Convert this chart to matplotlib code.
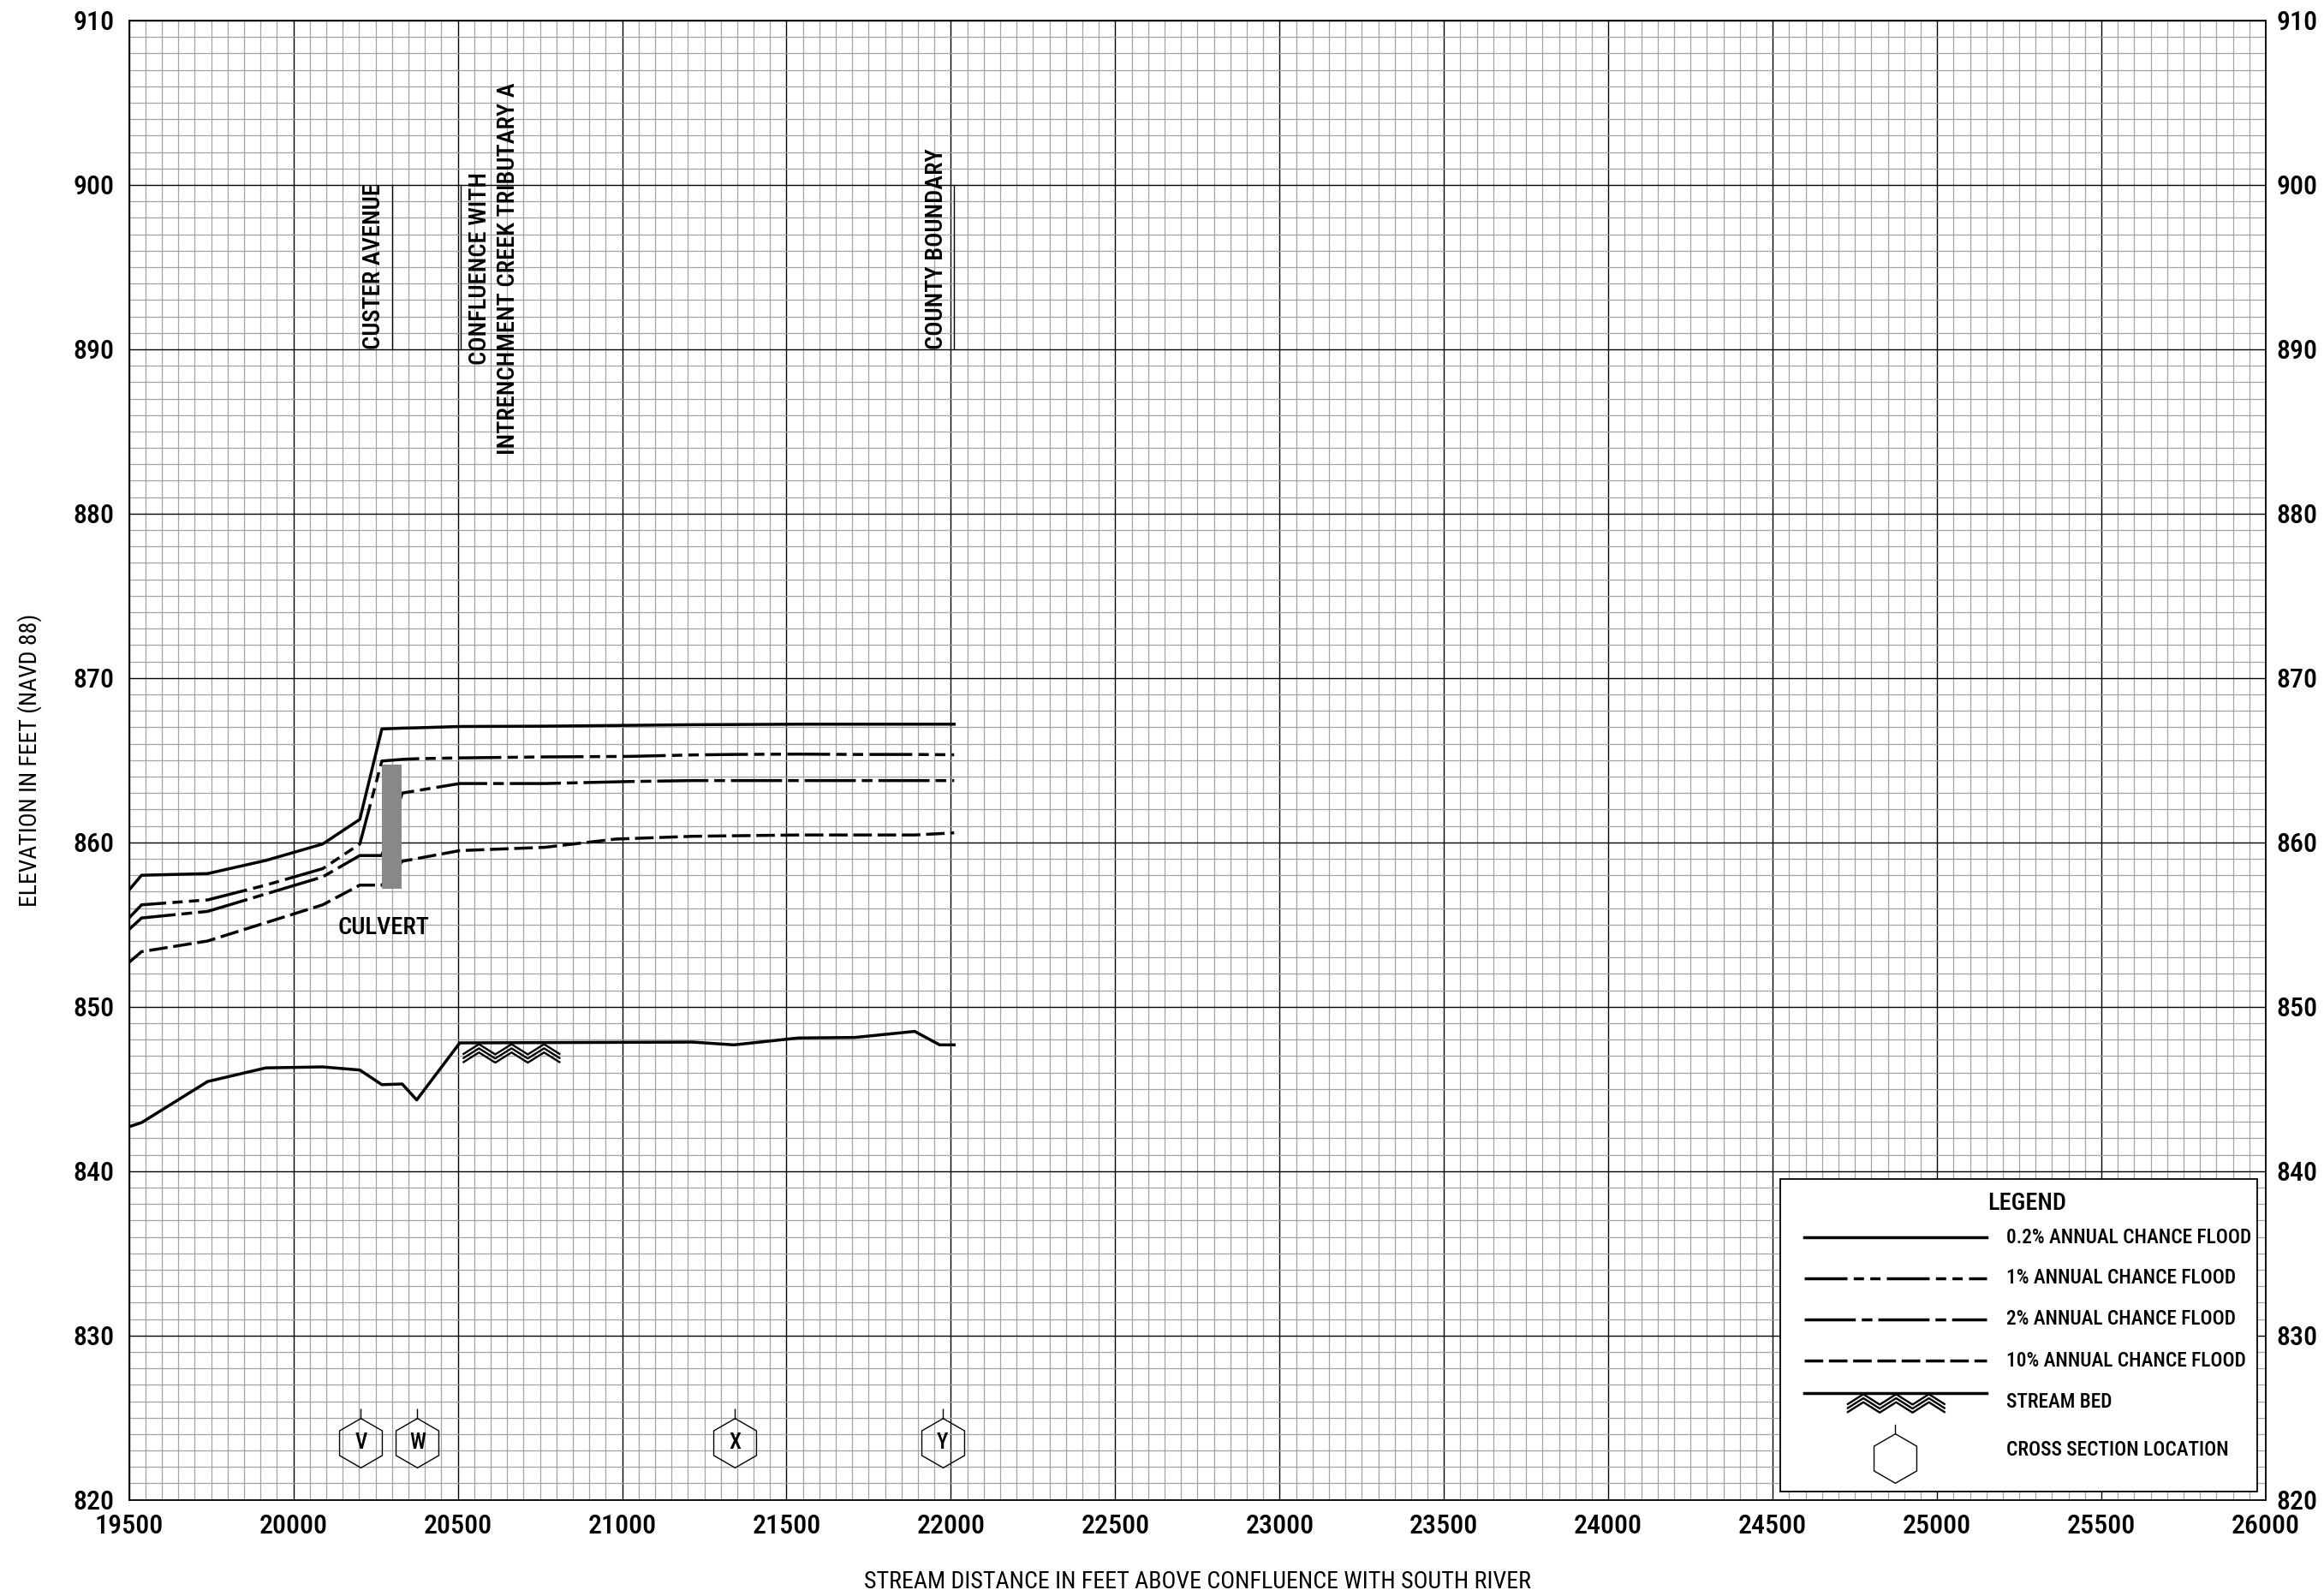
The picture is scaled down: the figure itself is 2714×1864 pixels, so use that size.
import numpy as np
import matplotlib
matplotlib.use("Agg")
import matplotlib.pyplot as plt
from matplotlib import font_manager
from matplotlib.patches import Rectangle
from matplotlib.ticker import MultipleLocator

# --- profile data (stream distance in ft, elevation in ft NAVD 88) ---
dist_02 = [19500, 19538, 19739, 19916, 20089, 20202, 20269, 20331, 20375, 20506,
           20765, 21018, 21214, 21340, 21536, 21890, 22010]
elev_02 = [857.1, 858.0, 858.1, 858.9, 859.9, 861.4, 866.9, 866.95, 866.97, 867.05,
           867.07, 867.12, 867.16, 867.17, 867.19, 867.19, 867.19]

dist_1 = [19500, 19538, 19739, 19916, 20089, 20202, 20269, 20331, 20375, 20506,
          20765, 21018, 21214, 21340, 21536, 21707, 21890, 22010]
elev_1 = [855.4, 856.2, 856.5, 857.4, 858.4, 859.9, 864.95, 865.05, 865.09, 865.14,
          865.2, 865.23, 865.32, 865.35, 865.37, 865.35, 865.35, 865.33]

dist_2 = [19500, 19538, 19739, 20089, 20202, 20269, 20331, 20506, 20765, 21018,
          21214, 22010]
elev_2 = [854.7, 855.4, 855.8, 857.9, 859.2, 859.2, 863.0, 863.58, 863.58, 863.7,
          863.76, 863.76]

dist_10 = [19500, 19538, 19739, 20089, 20202, 20269, 20331, 20506, 20765, 20980,
           21214, 21536, 21890, 22010]
elev_10 = [852.7, 853.35, 854.0, 856.2, 857.4, 857.4, 858.85, 859.5, 859.7, 860.2,
           860.37, 860.45, 860.45, 860.58]

dist_bed = [19500, 19538, 19739, 19916, 20089, 20202, 20269, 20331, 20375, 20506,
            21214, 21340, 21536, 21707, 21890, 21966, 22010]
elev_bed = [842.7, 842.95, 845.45, 846.28, 846.34, 846.15, 845.26, 845.3, 844.33, 847.8,
            847.85, 847.68, 848.1, 848.13, 848.5, 847.68, 847.68]

# cross sections
xs_labels = ["V", "W", "X", "Y"]
xs_dist = [20205, 20377, 21342, 21975]
xs_elev = 823.45

# culvert (distance range, elevation range)
culvert_dist = [20269, 20330]
culvert_elev = [857.2, 864.75]

# landmark marker lines
custer_dist = 20300
confl_dist = 20510
county_dist = 22010

x_ticks = list(range(19500, 26001, 500))
y_ticks = list(range(820, 911, 10))

# --- font: pick a narrow face if one is installed ---
pref = ["Roboto Condensed", "Liberation Sans Narrow", "Open Sans Condensed"]
narrow = [f for f in font_manager.fontManager.ttflist
          if ("Narrow" in f.name or "Condensed" in f.name or f.stretch in ("condensed", "semi-condensed"))
          and f.style == "normal" and f.weight in (400, "normal", "regular")]
narrow.sort(key=lambda f: pref.index(f.name) if f.name in pref else len(pref))
if narrow:
    plt.rcParams["font.family"] = [narrow[0].name, "DejaVu Sans"]
    plt.rcParams["font.stretch"] = narrow[0].stretch
else:
    plt.rcParams["font.family"] = ["Liberation Sans", "DejaVu Sans"]
plt.rcParams["font.weight"] = "medium"
plt.rcParams["lines.scale_dashes"] = False

dash_1 = (0, (36, 5.3, 8.6, 5.3, 8.6, 5.3))
dash_2 = (0, (43, 5, 9, 5))
dash_10 = (0, (15.6, 4.8))
LW = 2.5

fig = plt.figure(figsize=(27.14, 18.64), dpi=100)
ax = fig.add_axes([0.05553, 0.06025, 0.91942, 0.92688])
ax.set_xlim(19500, 26000)
ax.set_ylim(820, 910)
ax.set_xticks(x_ticks)
ax.set_yticks(y_ticks)
ax.xaxis.set_minor_locator(MultipleLocator(50))
ax.yaxis.set_minor_locator(MultipleLocator(1))
ax.set_axisbelow(True)
ax.grid(which="minor", color="#a3a3a3", lw=0.9)
ax.grid(which="major", color="black", lw=1.0)
ax.tick_params(which="both", length=0)
ax.tick_params(axis="x", labelsize=23, pad=12)
ax.tick_params(axis="y", labelsize=23, pad=12.5)
for s in ax.spines.values():
    s.set_linewidth(1.3)

ax2 = ax.twinx()
ax2.set_ylim(820, 910)
ax2.set_yticks(y_ticks)
ax2.tick_params(length=0, labelsize=23, pad=9)
for s in ax2.spines.values():
    s.set_visible(False)

ax.set_xlabel("STREAM DISTANCE IN FEET ABOVE CONFLUENCE WITH SOUTH RIVER", fontsize=20.2, va="center")
ax.xaxis.set_label_coords(0.5, -0.0552)
ax.set_ylabel("ELEVATION IN FEET (NAVD 88)", fontsize=20, va="center")
ax.yaxis.set_label_coords(-0.0464, 0.5)

# profiles
ax.plot(dist_02, elev_02, color="black", lw=LW, zorder=3)
ax.plot(dist_1, elev_1, color="black", lw=LW, ls=dash_1, dash_capstyle="butt", zorder=3)
ax.plot(dist_2, elev_2, color="black", lw=LW, ls=dash_2, dash_capstyle="butt", zorder=3)
ax.plot(dist_10, elev_10, color="black", lw=LW, ls=dash_10, dash_capstyle="butt", zorder=3)
ax.plot(dist_bed, elev_bed, color="black", lw=LW, zorder=3)


def bed_hatch(x0, x1, ytop, depth, off, trans, z, n=3):
    xs = np.linspace(x0, x1, 2 * n + 1)
    ys = np.where(np.arange(2 * n + 1) % 2 == 0, ytop - depth, ytop)
    for k in range(3):
        ax.plot(xs, ys - k * off, color="black", lw=1.7, transform=trans,
                solid_capstyle="butt", zorder=z, clip_on=False)


bed_hatch(20515, 20812, 847.8 - 0.08, 0.62, 0.25, ax.transData, 6)

# culvert
ax.add_patch(Rectangle((culvert_dist[0], culvert_elev[0]), culvert_dist[1] - culvert_dist[0],
                       culvert_elev[1] - culvert_elev[0], facecolor="#888888", edgecolor="none", zorder=4))
ax.text(20273, 854.8, "CULVERT", fontsize=20.5, ha="center", va="center")

# landmark lines and labels
for d in [custer_dist, confl_dist, county_dist]:
    ax.plot([d, d], [890, 900], color="black", lw=1.0, zorder=3)
ax.text(custer_dist - 20, 890, "CUSTER AVENUE", rotation=90, fontsize=20.5, ha="right", va="bottom")
ax.text(county_dist - 20, 890, "COUNTY BOUNDARY", rotation=90, fontsize=20.5, ha="right", va="bottom")
ax.text(confl_dist + 23, 894.9, "CONFLUENCE WITH\nINTRENCHMENT CREEK TRIBUTARY A", rotation=90,
        fontsize=20.5, ha="left", va="center", multialignment="center", linespacing=1.25)

# cross section hexagons
ax.plot(xs_dist, [xs_elev] * len(xs_dist), ls="none", marker="h", ms=41.5,
        mfc="none", mec="black", mew=1.0, zorder=5)
ax.vlines(xs_dist, xs_elev + 1.5, xs_elev + 2.1, color="black", lw=1.0, zorder=5)
for lab, d in zip(xs_labels, xs_dist):
    ax.text(d, xs_elev, lab, fontsize=18, ha="center", va="center", zorder=6)

# legend box
T = ax.transAxes
ax.add_patch(Rectangle((0.7728, 0.0056), 0.2232, 0.2112, transform=T, facecolor="white",
                       edgecolor="black", lw=1.3, zorder=7))
ax.text(0.8882, 0.2006, "LEGEND", transform=T, fontsize=20.4, ha="center", va="center", zorder=8)
leg_rows = [0.1775, 0.1499, 0.1221, 0.0941]
leg_styles = ["-", dash_1, dash_2, dash_10]
leg_names = ["0.2% ANNUAL CHANCE FLOOD", "1% ANNUAL CHANCE FLOOD",
             "2% ANNUAL CHANCE FLOOD", "10% ANNUAL CHANCE FLOOD"]
for yy, st, nm in zip(leg_rows, leg_styles, leg_names):
    ax.plot([0.7840, 0.8694], [yy, yy], transform=T, color="black", lw=LW, ls=st,
            dash_capstyle="butt", zorder=8)
    ax.text(0.8786, yy, nm, transform=T, fontsize=16.8, ha="left", va="center", zorder=8)
ax.plot([0.7840, 0.8694], [0.0723, 0.0723], transform=T, color="black", lw=LW, zorder=8)
bed_hatch(0.8040, 0.8500, 0.0723 - 0.0009, 0.0070, 0.0027, T, 8)
ax.text(0.8786, 0.0661, "STREAM BED", transform=T, fontsize=16.8, ha="left", va="center", zorder=8)
ax.plot([0.8265], [0.0282], transform=T, marker="h", ms=41.5, mfc="white", mec="black",
        mew=1.0, zorder=8)
ax.plot([0.8265, 0.8265], [0.0448, 0.0507], transform=T, color="black", lw=1.0, zorder=8)
ax.text(0.8786, 0.0334, "CROSS SECTION LOCATION", transform=T, fontsize=16.8, ha="left",
        va="center", zorder=8)

fig.savefig("out.png", dpi=100)
